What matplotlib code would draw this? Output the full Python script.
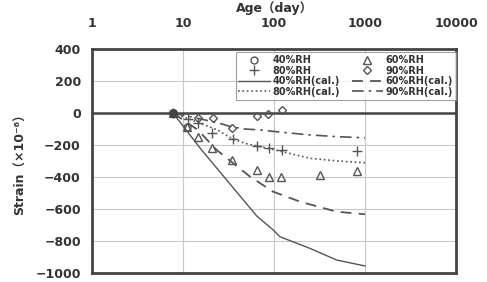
import matplotlib
matplotlib.use("Agg")
import matplotlib.pyplot as plt
from matplotlib.ticker import FixedLocator, NullLocator

plt.rcParams['font.family'] = ['DejaVu Sans', 'Noto Sans CJK JP']

# Observed data
age_40 = [7.75, 11.0]
strain_40 = [0, -86]
age_60 = [7.75, 11.0, 14.7, 20.6, 34.2, 64.7, 88, 119, 320, 811]
strain_60 = [0, -90, -148, -221, -294, -356, -398, -398, -387, -360]
age_80 = [7.75, 11.4, 14.7, 21, 35, 65, 88, 121, 811]
strain_80 = [0, -37, -64, -127, -160, -205, -220, -231, -236]
age_90 = [7.75, 14.7, 21.6, 34.2, 64.7, 86.6, 121]
strain_90 = [0, -33, -33, -96, -19, -6, 19]

# Calculated curves
cal_age_40 = [7.75, 16.0, 30.2, 64.7, 98, 116, 248, 489, 1000]
cal_40 = [0, -231, -419, -644, -731, -773, -846, -919, -956]
cal_age_60 = [7.75, 14.6, 23.4, 54.6, 98, 193, 490, 1000]
cal_60 = [0, -106, -231, -398, -492, -554, -617, -633]
cal_age_80 = [7.75, 14, 24, 34, 48, 70, 120, 248, 500, 1000]
cal_80 = [0, -55, -106, -158, -190, -210, -240, -283, -300, -311]
cal_age_90 = [7.75, 15, 25, 34, 48, 70, 130, 248, 500, 1000]
cal_90 = [0, -35, -64, -86, -100, -106, -122, -137, -148, -155]

x_ticks = [1, 10, 100, 1000, 10000]
x_tick_labels = ['1', '10', '100', '1000', '10000']
y_ticks = [400, 200, 0, -200, -400, -600, -800, -1000]

txt = '#333333'
lc = '#555555'

fig = plt.figure(figsize=(4.87, 2.82), dpi=100)
ax = fig.add_axes([92/487, 1 - 273/282, (456-92)/487, (273-49)/282])
ax.set_xscale('log')
ax.set_xlim(1, 10000)
ax.set_ylim(-1000, 400)

ax.xaxis.set_major_locator(FixedLocator(x_ticks))
ax.xaxis.set_minor_locator(NullLocator())
ax.set_xticklabels(x_tick_labels)
ax.set_yticks(y_ticks)
ax.tick_params(axis='x', which='both', top=False, bottom=False, labeltop=True,
               labelbottom=False, labelsize=9, colors=txt, pad=10)
ax.tick_params(axis='y', length=0, labelsize=9, colors=txt, pad=8)
for lab in ax.get_xticklabels() + ax.get_yticklabels():
    lab.set_fontweight('bold')

ax.grid(True, color='#c8c8c8', linewidth=0.8)
ax.axhline(0, color='#444444', linewidth=1.8, zorder=2)
for s in ax.spines.values():
    s.set_linewidth(2.0)
    s.set_color('#444444')

ax.xaxis.set_label_position('top')
ax.set_xlabel('Age（day）', fontsize=9, color=txt, fontweight='bold', labelpad=4)
ax.set_ylabel('Strain（×10⁻⁶）', fontsize=9, color=txt, fontweight='bold', labelpad=6)

mk = dict(linestyle='none', markerfacecolor='none', markeredgecolor=lc, markeredgewidth=1.0, zorder=4)
h40, = ax.plot(age_40, strain_40, marker='o', markersize=5, label='40%RH', **mk)
h60, = ax.plot(age_60, strain_60, marker='^', markersize=5.5, label='60%RH', **mk)
h80, = ax.plot(age_80, strain_80, marker='+', markersize=7, label='80%RH', **mk)
h90, = ax.plot(age_90, strain_90, marker='D', markersize=4, label='90%RH', **mk)
ax.plot([7.75], [0], marker='o', markersize=5.5, color='#444444', linestyle='none', zorder=5)

c40, = ax.plot(cal_age_40, cal_40, '-', color=lc, linewidth=1.0, label='40%RH(cal.)')
c60, = ax.plot(cal_age_60, cal_60, '--', color=lc, linewidth=1.3, dashes=(6, 4), label='60%RH(cal.)')
c80, = ax.plot(cal_age_80, cal_80, ':', color=lc, linewidth=1.2, label='80%RH(cal.)')
c90, = ax.plot(cal_age_90, cal_90, '-.', color=lc, linewidth=1.2, dashes=(7, 3, 1.5, 3), label='90%RH(cal.)')

handles = [h40, h80, c40, c80, h60, h90, c60, c90]
leg = ax.legend(handles=handles, ncol=2, loc='upper right', bbox_to_anchor=(1.0, 0.985),
                fontsize=7, frameon=True, fancybox=False, edgecolor='#888888',
                handlelength=3.2, columnspacing=1.2, labelspacing=0.05,
                borderpad=0.3, handletextpad=0.3, borderaxespad=0.0)
leg.get_frame().set_linewidth(0.8)
for t in leg.get_texts():
    t.set_color(txt)
    t.set_fontweight('bold')

fig.savefig('out.png', dpi=100)
